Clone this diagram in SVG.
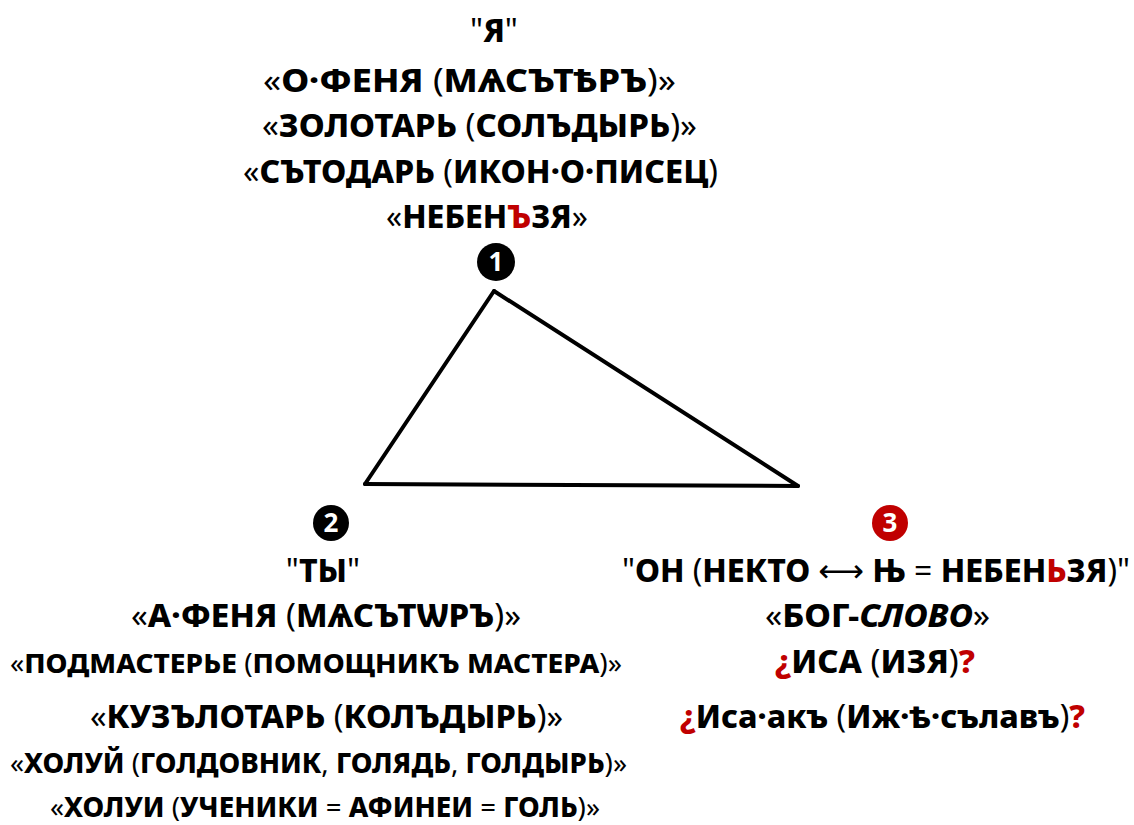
<svg xmlns="http://www.w3.org/2000/svg" width="1134" height="825" viewBox="0 0 1134 825">
<style>
text{font-family:"Noto Sans","Open Sans","DejaVu Sans",sans-serif;font-weight:800;fill:#000;text-anchor:middle;}
.r{font-weight:400;}
.red{fill:#c00000;}
.it{font-style:italic;}
.num{fill:#fff;font-size:26px;font-weight:700;}
.badge{fill:#000;}
.badge.red3{fill:#c00000;}
.edge{stroke:#000;stroke-width:4;stroke-linecap:round;fill:none;}
.t32{font-size:32px;}
.t28{font-size:28px;}
.t27{font-size:27px;}
</style>
<rect width="1134" height="825" fill="#fff"/>
<g id="connectors">
<line class="edge" x1="494" y1="291" x2="365" y2="484"/>
<line class="edge" x1="494" y1="291" x2="798" y2="486"/>
<line class="edge" x1="365" y1="484" x2="798" y2="486"/>
</g>
<g id="node1">
<text class="t32" x="494" y="42"><tspan class="r">"</tspan>Я<tspan class="r">"</tspan></text>
<text class="t32" x="469.5" y="92" textLength="413" lengthAdjust="spacingAndGlyphs"><tspan class="r">«</tspan>О·ФЕНЯ <tspan class="r">(</tspan>МѦСЪТѢРЪ<tspan class="r">)»</tspan></text>
<text class="t32" x="479.5" y="137" textLength="435" lengthAdjust="spacingAndGlyphs"><tspan class="r">«</tspan>ЗОЛОТАРЬ <tspan class="r">(</tspan>СОЛЪДЫРЬ<tspan class="r">)»</tspan></text>
<text class="t32" x="480.5" y="183" textLength="475" lengthAdjust="spacingAndGlyphs"><tspan class="r">«</tspan>СЪТОДАРЬ <tspan class="r">(</tspan>ИКОН·О·ПИСЕЦ<tspan class="r">)</tspan></text>
<text class="t32" x="487" y="228" textLength="202" lengthAdjust="spacingAndGlyphs"><tspan class="r">«</tspan>НЕБЕН<tspan class="red">Ъ</tspan>ЗЯ<tspan class="r">»</tspan></text>
<circle class="badge" cx="496" cy="262" r="19"/>
<text class="num" x="496" y="271">1</text>
</g>
<g id="node2">
<circle class="badge" cx="331" cy="523" r="18"/>
<text class="num" x="331" y="532">2</text>
<text class="t32" x="323" y="582"><tspan class="r">"</tspan>ТЫ<tspan class="r">"</tspan></text>
<text class="t32" x="326" y="627" textLength="390" lengthAdjust="spacingAndGlyphs"><tspan class="r">«</tspan>А·ФЕНЯ <tspan class="r">(</tspan>МѦСЪТѠРЪ<tspan class="r">)»</tspan></text>
<text class="t27" x="316" y="673" textLength="612" lengthAdjust="spacingAndGlyphs"><tspan class="r">«</tspan>ПОДМАСТЕРЬЕ <tspan class="r">(</tspan>ПОМОЩНИКЪ МАСТЕРА<tspan class="r">)»</tspan></text>
<text class="t32" x="326.5" y="728" textLength="473" lengthAdjust="spacingAndGlyphs"><tspan class="r">«</tspan>КУЗЪЛОТАРЬ <tspan class="r">(</tspan>КОЛЪДЫРЬ<tspan class="r">)»</tspan></text>
<text class="t28" x="318.5" y="773" textLength="617" lengthAdjust="spacingAndGlyphs"><tspan class="r">«</tspan>ХОЛУЙ <tspan class="r">(</tspan>ГОЛДОВНИК<tspan class="r">,</tspan> ГОЛЯДЬ<tspan class="r">,</tspan> ГОЛДЫРЬ<tspan class="r">)»</tspan></text>
<text class="t28" x="325" y="817" textLength="550" lengthAdjust="spacingAndGlyphs"><tspan class="r">«</tspan>ХОЛУИ <tspan class="r">(</tspan>УЧЕНИКИ <tspan class="r">=</tspan> АФИНЕИ <tspan class="r">=</tspan> ГОЛЬ<tspan class="r">)»</tspan></text>
</g>
<g id="node3">
<circle class="badge red3" cx="890" cy="523" r="18"/>
<text class="num" x="890" y="532">3</text>
<text class="t32" x="876" y="582" textLength="508" lengthAdjust="spacingAndGlyphs"><tspan class="r">"</tspan>ОН <tspan class="r">(</tspan>НЕКТО <tspan class="r">⟷</tspan> Њ <tspan class="r">=</tspan> НЕБЕН<tspan class="red">Ь</tspan>ЗЯ<tspan class="r">)"</tspan></text>
<text class="t32" x="877.5" y="627" textLength="225" lengthAdjust="spacingAndGlyphs"><tspan class="r">«</tspan>БОГ-<tspan class="it">СЛОВО</tspan><tspan class="r">»</tspan></text>
<text class="t32" x="875" y="673" textLength="200" lengthAdjust="spacingAndGlyphs"><tspan class="red">¿</tspan>ИСА <tspan class="r">(</tspan>ИЗЯ<tspan class="r">)</tspan><tspan class="red">?</tspan></text>
<text class="t32" x="882.5" y="728" textLength="405" lengthAdjust="spacingAndGlyphs"><tspan class="red">¿</tspan>Иса·акъ <tspan class="r">(</tspan>Иж·ѣ·сълавъ<tspan class="r">)</tspan><tspan class="red">?</tspan></text>
</g>
</svg>
